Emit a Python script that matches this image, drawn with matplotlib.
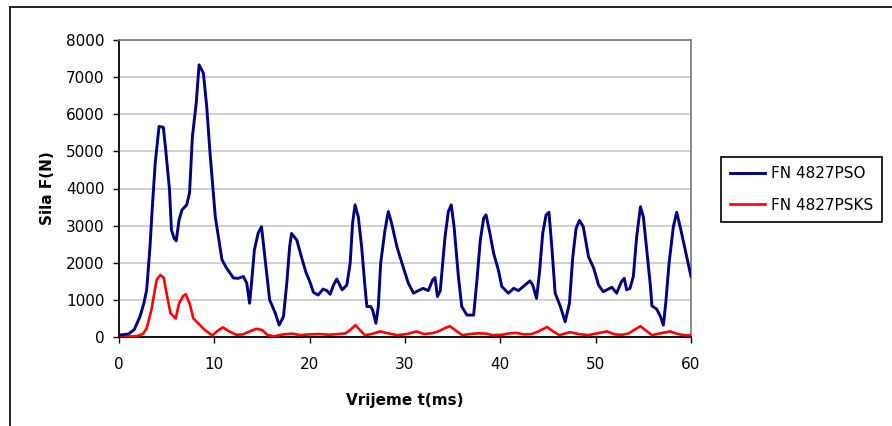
#!/usr/bin/env python

import matplotlib
matplotlib.use('Agg')
import matplotlib.pyplot as plt
from matplotlib.lines import Line2D

plt.rcParams['font.family'] = ['DejaVu Sans']

# FN 4827PSO (blue)
pso_t = [0.0, 1.0, 1.6, 2.2, 2.6, 2.9, 3.25, 3.5, 3.8, 4.2, 4.65, 4.9, 5.3, 5.5, 5.8, 6.0,
         6.3, 6.6, 7.1, 7.4, 7.7, 8.1, 8.4, 8.85, 9.2, 9.55, 10.1, 10.8, 11.3, 12.0, 12.5,
         13.05, 13.4, 13.7, 13.9, 14.2, 14.6, 14.95, 15.3, 15.8, 16.4, 16.8, 17.25, 17.6,
         17.9, 18.1, 18.65, 19.2, 19.6, 20.0, 20.4, 20.9, 21.4, 21.8, 22.15, 22.5, 22.85,
         23.4, 23.9, 24.25, 24.5, 24.76, 25.1, 25.45, 25.8, 26.0, 26.4, 26.6, 26.95, 27.2,
         27.45, 27.9, 28.25, 28.6, 29.15, 29.85, 30.35, 30.9, 31.4, 31.9, 32.45, 32.9,
         33.15, 33.4, 33.7, 34.2, 34.55, 34.85, 35.15, 35.6, 35.95, 36.5, 37.2, 37.55,
         37.9, 38.25, 38.5, 38.9, 39.3, 39.8, 40.15, 40.85, 41.4, 41.9, 42.45, 43.1, 43.4,
         43.8, 44.1, 44.45, 44.8, 45.1, 45.4, 45.75, 46.3, 46.8, 47.25, 47.6, 47.95, 48.3,
         48.7, 49.25, 49.8, 50.3, 50.8, 51.7, 52.2, 52.7, 53.0, 53.25, 53.6, 53.95, 54.3,
         54.7, 55.0, 55.4, 55.75, 55.9, 56.4, 56.8, 57.1, 57.35, 57.7, 58.15, 58.5, 58.9,
         59.4, 60.0]
pso_f = [50, 80, 200, 550, 900, 1260, 2430, 3510, 4690, 5670, 5650, 5040, 3960, 2880, 2650,
         2590, 3150, 3420, 3560, 3880, 5400, 6300, 7330, 7110, 6210, 4950, 3240, 2080, 1850,
         1590, 1580, 1630, 1450, 910, 1450, 2340, 2800, 2970, 2160, 1000, 640, 320, 550,
         1450, 2430, 2790, 2610, 2100, 1750, 1500, 1200, 1130, 1290, 1250, 1150, 1400, 1560,
         1270, 1400, 1990, 3060, 3560, 3240, 2430, 1360, 820, 820, 730, 370, 820, 1990, 2880,
         3380, 3060, 2430, 1850, 1450, 1180, 1250, 1310, 1250, 1540, 1600, 1090, 1250, 2700,
         3380, 3560, 2970, 1630, 820, 590, 590, 1540, 2610, 3200, 3290, 2800, 2250, 1800,
         1360, 1180, 1310, 1250, 1370, 1510, 1400, 1040, 1720, 2800, 3290, 3360, 2430, 1180,
         820, 410, 910, 2160, 2930, 3140, 2970, 2160, 1850, 1400, 1220, 1340, 1180, 1490,
         1580, 1270, 1310, 1630, 2700, 3510, 3240, 2250, 1360, 840, 750, 550, 320, 910,
         1990, 2970, 3360, 2930, 2340, 1630]

# FN 4827PSKS (red)
psks_t = [0.0, 1.0, 2.0, 2.5, 2.9, 3.4, 3.95, 4.35, 4.7, 5.05, 5.4, 5.95, 6.3, 6.75, 7.0,
          7.4, 7.8, 8.3, 9.0, 9.8, 10.3, 10.9, 11.5, 12.3, 13.0, 13.7, 14.4, 15.0, 15.6,
          16.3, 17.2, 18.2, 19.0, 20.0, 21.0, 22.0, 23.0, 23.8, 24.3, 24.8, 25.3, 25.8,
          26.5, 27.4, 28.2, 29.2, 30.2, 31.2, 32.0, 32.8, 33.5, 34.1, 34.7, 35.3, 36.0,
          36.8, 37.7, 38.5, 39.2, 40.2, 41.0, 41.7, 42.5, 43.3, 44.0, 44.9, 45.6, 46.2,
          47.3, 48.2, 49.2, 50.2, 51.2, 52.0, 52.8, 53.5, 54.1, 54.7, 55.3, 55.9, 56.8,
          57.8, 58.6, 59.3, 60.0]
psks_f = [0, 10, 30, 80, 230, 730, 1540, 1670, 1590, 1090, 640, 500, 910, 1110, 1150, 910,
          500, 370, 190, 40, 160, 260, 160, 60, 70, 150, 220, 190, 50, 20, 70, 90, 50, 70,
          80, 60, 80, 100, 200, 320, 180, 50, 80, 150, 100, 50, 80, 150, 80, 100, 150, 230,
          290, 180, 50, 80, 100, 90, 50, 60, 100, 110, 70, 80, 150, 270, 140, 50, 130, 80,
          50, 100, 150, 70, 60, 100, 200, 290, 170, 50, 100, 150, 80, 50, 50]

x_ticks = [0, 10, 20, 30, 40, 50, 60]
y_ticks = [0, 1000, 2000, 3000, 4000, 5000, 6000, 7000, 8000]

fig = plt.figure(figsize=(8.92, 4.26), dpi=100)
ax = fig.add_axes([119 / 892, 1 - 337 / 426, 572 / 892, 297 / 426])

ax.plot(psks_t, psks_f, color='#ff0000', lw=1.9, solid_joinstyle='round',
        label='FN 4827PSKS', zorder=3)
ax.plot(pso_t, pso_f, color='#000080', lw=2.1, solid_joinstyle='round',
        label='FN 4827PSO', zorder=4)

ax.set_xlim(0, 60)
ax.set_ylim(0, 8000)
ax.set_xticks(x_ticks)
ax.set_yticks(y_ticks)
ax.yaxis.grid(True, color='#c8c8c8', lw=1.2)
ax.set_axisbelow(True)
ax.tick_params(direction='out', length=4.5, width=1.0, labelsize=11, colors='black')
ax.tick_params(axis='y', pad=6)
ax.tick_params(axis='x', pad=10)

for side in ['top', 'right']:
    ax.spines[side].set_color('#808080')
    ax.spines[side].set_linewidth(1.3)
for side in ['left', 'bottom']:
    ax.spines[side].set_color('black')
    ax.spines[side].set_linewidth(1.3)

ax.set_xlabel('Vrijeme t(ms)', fontsize=11, fontweight='bold')
ax.set_ylabel('Sila F(N)', fontsize=11, fontweight='bold')
ax.xaxis.set_label_coords(0.5, -0.19)
ax.yaxis.set_label_coords(-0.112, 0.5)

handles, labels = ax.get_legend_handles_labels()
leg = fig.legend(handles[::-1], labels[::-1], loc='upper left',
                 bbox_to_anchor=(720.7 / 892, 1 - 156.7 / 426), fontsize=11,
                 frameon=True, fancybox=False, framealpha=1, edgecolor='black',
                 handlelength=2.3, handletextpad=0.35, borderpad=0.62,
                 labelspacing=1.08, borderaxespad=0)
leg.get_frame().set_linewidth(1.2)

# outer chart frame
fig.add_artist(Line2D([10 / 892, 10 / 892], [0, 1 - 7 / 426], color='black', lw=1.2,
                      transform=fig.transFigure))
fig.add_artist(Line2D([10 / 892, 1.0], [1 - 7 / 426, 1 - 7 / 426], color='black', lw=1.2,
                      transform=fig.transFigure))

fig.savefig('out.png', dpi=100)
